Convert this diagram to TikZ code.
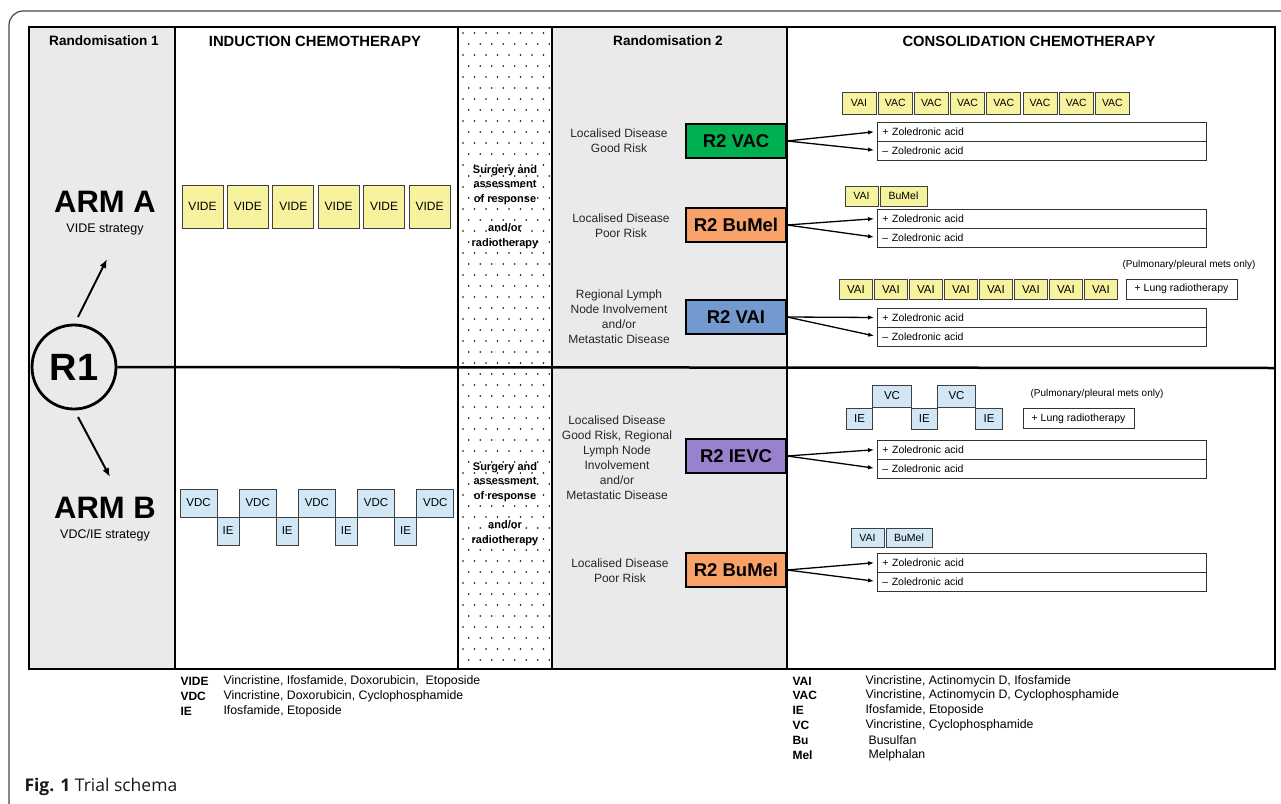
\documentclass[tikz,border=0pt]{standalone}
\usepackage{fontspec}
\setmainfont{Liberation Sans}
\newfontfamily\capfont{Open Sans}
\usetikzlibrary{arrows.meta}

\definecolor{panelgray}{RGB}{234,234,234}
\definecolor{cycyellow}{RGB}{246,242,158}
\definecolor{cycblue}{RGB}{209,231,245}
\definecolor{r2green}{RGB}{0,176,80}
\definecolor{r2orange}{RGB}{248,162,106}
\definecolor{r2blue}{RGB}{115,153,207}
\definecolor{r2purple}{RGB}{153,129,205}
\definecolor{framegray}{RGB}{70,70,70}

\tikzset{
  hdr/.style={font=\bfseries\fontsize{13.6}{15}\selectfont},
  caphdr/.style={font=\bfseries\fontsize{14.8}{16}\selectfont},
  armtitle/.style={font=\bfseries\fontsize{31}{34}\selectfont},
  armsub/.style={font=\fontsize{12.5}{14}\selectfont},
  cyc/.style={draw=black!75, line width=0.9pt, inner sep=0pt, font=\fontsize{10.5}{12}\selectfont},
  videbox/.style={cyc, fill=cycyellow, minimum width=41pt, minimum height=43pt, font=\fontsize{12}{14}\selectfont},
  ybox/.style={cyc, fill=cycyellow},
  bbox/.style={cyc, fill=cycblue},
  surg/.style={align=center, font=\bfseries\fontsize{11}{14.7}\selectfont},
  risk/.style={align=center, text=black!85, font=\fontsize{12}{15}\selectfont},
  r2box/.style={draw=black, line width=2.2pt, minimum width=100pt, minimum height=34pt, inner sep=0pt, font=\bfseries\fontsize{18.5}{20}\selectfont},
  zolbox/.style={draw=black!80, line width=0.9pt, text width=319pt, align=left, minimum height=19pt, inner xsep=5pt, inner ysep=0pt, anchor=west, font=\fontsize{10.5}{12}\selectfont},
  lungbox/.style={draw=black!80, line width=0.9pt, minimum width=111pt, minimum height=20pt, inner sep=0pt, font=\fontsize{10.5}{12}\selectfont},
  note/.style={font=\fontsize{10}{12}\selectfont},
  fan/.style={line width=1.3pt, -{Latex[length=6pt,width=4.5pt]}, shorten >=3pt},
  armarrow/.style={line width=2pt, -{Latex[length=9pt,width=7pt]}},
  legkey/.style={anchor=west, font=\bfseries\fontsize{12}{13}\selectfont},
  legtxt/.style={anchor=west, font=\fontsize{12.3}{13}\selectfont},
}

\begin{document}
\begin{tikzpicture}[x=1pt,y=-1pt]
\useasboundingbox (0,0) rectangle (1281,803);

%%%%% FRAME AND PANELS %%%%%
\draw[framegray, line width=1.2pt, rounded corners=14pt] (9,11) rectangle (1320,840);
\fill[panelgray] (29,27) rectangle (175,669);
\fill[panelgray] (552,27) rectangle (787,669);
% dotted surgery column
\foreach \j in {0,...,57}
  \foreach \i in {0,...,7}
    \fill ({463+11.5*\i+5.75*mod(\j,2)},{33+11*\j}) circle (0.8);
\draw[line width=1.3pt] (29,27) rectangle (1275,669);
\foreach \xx in {175,458,552,787}
  \draw[line width=1.3pt] (\xx,27) -- (\xx,669);

%%%%% HEADERS %%%%%
\node[hdr] (hdrR1) at (104,41) {Randomisation 1};
\node[caphdr] (hdrInd) at (315,41) {INDUCTION CHEMOTHERAPY};
\node[hdr] (hdrR2) at (668,41) {Randomisation 2};
\node[caphdr] (hdrCons) at (1029,41) {CONSOLIDATION CHEMOTHERAPY};

%%%%% RANDOMISATION 1 %%%%%
\node[draw, circle, line width=2.8pt, minimum size=84pt, inner sep=0pt, font=\bfseries\fontsize{38}{40}\selectfont] (r1) at (74,367) {R1};
\coordinate (divEnd) at (1275,368);
\draw[line width=2.5pt] (r1.east) -- (divEnd);

\node[armtitle] (armA) at (105,202) {ARM A};
\node[armsub] (armAsub) at (105,229) {VIDE strategy};
\node[armtitle] (armB) at (105,508) {ARM B};
\node[armsub] (armBsub) at (105,535) {VDC/IE strategy};
\coordinate (upFoot) at (78,317);
\coordinate (upTip) at (107,259);
\coordinate (dnFoot) at (78,417);
\coordinate (dnTip) at (110,477);
\draw[armarrow] (upFoot) -- (upTip);
\draw[armarrow] (dnFoot) -- (dnTip);

%%%%% INDUCTION %%%%%
\foreach \i in {0,...,5}
  \node[videbox] (vide\i) at ({202.5+45.4*\i},206.5) {VIDE};
\foreach \i in {0,...,4}
  \node[bbox, minimum width=37pt, minimum height=28pt, font=\fontsize{11.5}{13}\selectfont] (vdc\i) at ({198.5+59.2*\i},503) {VDC};
\foreach \i in {0,...,3}
  \node[bbox, minimum width=22pt, minimum height=28pt, font=\fontsize{11.5}{13}\selectfont] (ie\i) at ({228+59.2*\i},531) {IE};

%%%%% SURGERY %%%%%
\node[surg] (surgA) at (505,207) {Surgery and\\assessment\\of response\\[14.7pt]and/or\\radiotherapy};
\node[surg] (surgB) at (505,504) {Surgery and\\assessment\\of response\\[14.7pt]and/or\\radiotherapy};

%%%%% RANDOMISATION 2 %%%%%
\node[risk] (riskVAC) at (619,141) {Localised Disease\\Good Risk};
\node[risk] (riskBuMelA) at (621,226) {Localised Disease\\Poor Risk};
\node[risk] (riskVAI) at (619,316.5) {Regional Lymph\\Node Involvement\\and/or\\Metastatic Disease};
\node[risk] (riskIEVC) at (617,457.5) {Localised Disease\\Good Risk, Regional\\Lymph Node\\Involvement\\and/or\\Metastatic Disease};
\node[risk] (riskBuMelB) at (620,571) {Localised Disease\\Poor Risk};

\node[r2box, fill=r2green] (r2vac) at (736,141) {R2 VAC};
\node[r2box, fill=r2orange] (r2bumelA) at (736,225) {R2 BuMel};
\node[r2box, fill=r2blue] (r2vai) at (736,317) {R2 VAI};
\node[r2box, fill=r2purple] (r2ievc) at (736,456) {R2 IEVC};
\node[r2box, fill=r2orange] (r2bumelB) at (736,570) {R2 BuMel};

%%%%% CONSOLIDATION %%%%%
\foreach \g/\yy/\src in {1/122/r2vac, 2/209/r2bumelA, 3/308/r2vai, 4/440/r2ievc, 5/553/r2bumelB} {
  \node[zolbox] (zp\g) at (877,\yy+9.5) {+ Zoledronic acid};
  \node[zolbox] (zm\g) at (877,\yy+28.5) {-- Zoledronic acid};
  \draw[fan] (\src.east) -- (zp\g.west);
  \draw[fan] (\src.east) -- (zm\g.west);
}

% VAC arm cycles
\foreach \i/\t in {0/VAI,1/VAC,2/VAC,3/VAC,4/VAC,5/VAC,6/VAC,7/VAC}
  \node[ybox, minimum width=34pt, minimum height=22pt] (vacc\i) at ({859+36.2*\i},103) {\t};
% BuMel arm (A)
\node[ybox, minimum width=33pt, minimum height=20pt] (bmA0) at (861.5,196) {VAI};
\node[ybox, minimum width=47pt, minimum height=20pt] (bmA1) at (903.5,196) {BuMel};
% VAI arm cycles
\foreach \i in {0,...,7}
  \node[ybox, minimum width=32.5pt, minimum height=19.5pt, font=\fontsize{11.5}{13}\selectfont] (vaic\i) at ({856+35*\i},289.5) {VAI};
\node[note] (pulmA) at (1189,265) {(Pulmonary/pleural mets only)};
\node[lungbox] (lungA) at (1181.5,289) {+ Lung radiotherapy};
% IEVC arm cycles
\foreach \i in {0,1,2}
  \node[bbox, minimum width=26.5pt, minimum height=21pt, font=\fontsize{11.5}{13}\selectfont] (ievcIE\i) at ({859.5+64.75*\i},418.5) {IE};
\foreach \i in {0,1}
  \node[bbox, minimum width=38.5pt, minimum height=22pt, font=\fontsize{11.5}{13}\selectfont] (ievcVC\i) at ({892+64.5*\i},396) {VC};
\node[note] (pulmB) at (1097,394) {(Pulmonary/pleural mets only)};
\node[lungbox] (lungB) at (1078.5,418.5) {+ Lung radiotherapy};
% BuMel arm (B)
\node[bbox, minimum width=33pt, minimum height=19pt] (bmB0) at (867.5,537.5) {VAI};
\node[bbox, minimum width=46pt, minimum height=19pt] (bmB1) at (909,537.5) {BuMel};

%%%%% LEGENDS %%%%%
\foreach \k/\a/\b in {0/VIDE/{Vincristine, Ifosfamide, Doxorubicin,\ \ Etoposide}, 1/VDC/{Vincristine, Doxorubicin, Cyclophosphamide}, 2/IE/{Ifosfamide, Etoposide}} {
  \node[legkey] (lkL\k) at (177,{681+15*\k}) {\a};
  \node[legtxt] (ltL\k) at (220,{681+15*\k}) {\b};
}
\foreach \k/\a/\b/\xx in {0/VAI/{Vincristine, Actinomycin D, Ifosfamide}/862, 1/VAC/{Vincristine, Actinomycin D, Cyclophosphamide}/862, 2/IE/{Ifosfamide, Etoposide}/862, 3/VC/{Vincristine, Cyclophosphamide}/862, 4/Bu/Busulfan/865, 5/Mel/Melphalan/865} {
  \node[legkey] (lkR\k) at (789,{681+14.8*\k}) {\a};
  \node[legtxt] (ltR\k) at (\xx,{681+14.8*\k}) {\b};
}

%%%%% CAPTION %%%%%
\node[anchor=west, text=black!90, font=\capfont\fontsize{17.5}{20}\selectfont] (caption) at (21,787) {\textbf{Fig. 1} Trial schema};

\end{tikzpicture}
\end{document}
